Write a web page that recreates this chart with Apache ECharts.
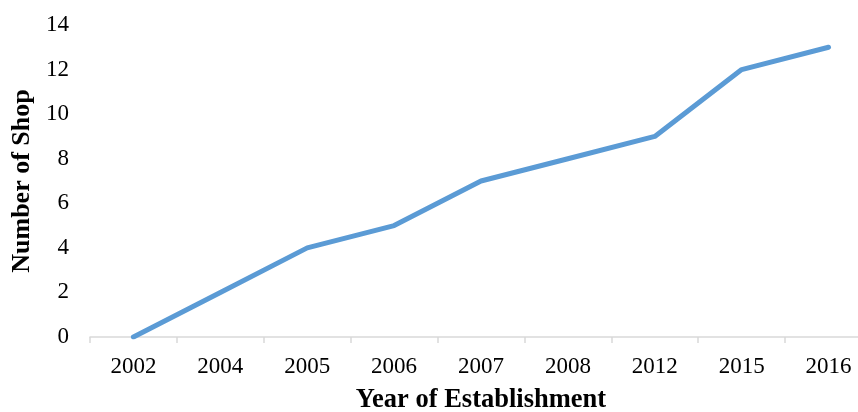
<!DOCTYPE html>
<html><head><meta charset="utf-8">
<script src="https://cdn.jsdelivr.net/npm/echarts@6/dist/echarts.min.js"></script>
<style>html,body{margin:0;padding:0;background:#fff}#c{width:858px;height:412px}</style>
</head><body><div id="c"></div>
<script>
var years = ['2002','2004','2005','2006','2007','2008','2012','2015','2016'];
var shops = [0, 2, 4, 5, 7, 8, 9, 12, 13];
var yTicks = {min: 0, max: 14, interval: 2};
var font = '"Liberation Serif", "Times New Roman", serif';
var chart = echarts.init(document.getElementById('c'));
chart.setOption({
  animation: false,
  grid: {left: 90, top: 25, width: 782, height: 312, containLabel: false, outerBoundsMode: 'none'},
  xAxis: {
    type: 'category', data: years, boundaryGap: true,
    axisLine: {lineStyle: {color: '#d9d9d9', width: 1.5}},
    axisTick: {show: true, length: 6, lineStyle: {color: '#d9d9d9', width: 1.5}},
    axisLabel: {color: '#000', fontFamily: font, fontSize: 23, margin: 18},
    name: 'Year of Establishment', nameLocation: 'middle', nameGap: 50,
    nameTextStyle: {color: '#000', fontFamily: font, fontSize: 26.5, fontWeight: 'bold'}
  },
  yAxis: {
    type: 'value', min: yTicks.min, max: yTicks.max, interval: yTicks.interval,
    splitLine: {show: false}, axisLine: {show: false}, axisTick: {show: false},
    axisLabel: {color: '#000', fontFamily: font, fontSize: 23, margin: 21},
    name: 'Number of Shop', nameLocation: 'middle', nameGap: 54,
    nameTextStyle: {color: '#000', fontFamily: font, fontSize: 26, fontWeight: 'bold'}
  },
  series: [{
    type: 'line', data: shops, showSymbol: false, symbol: 'none',
    lineStyle: {color: '#5b9bd5', width: 5, cap: 'round', join: 'round'}
  }]
});
</script></body></html>
